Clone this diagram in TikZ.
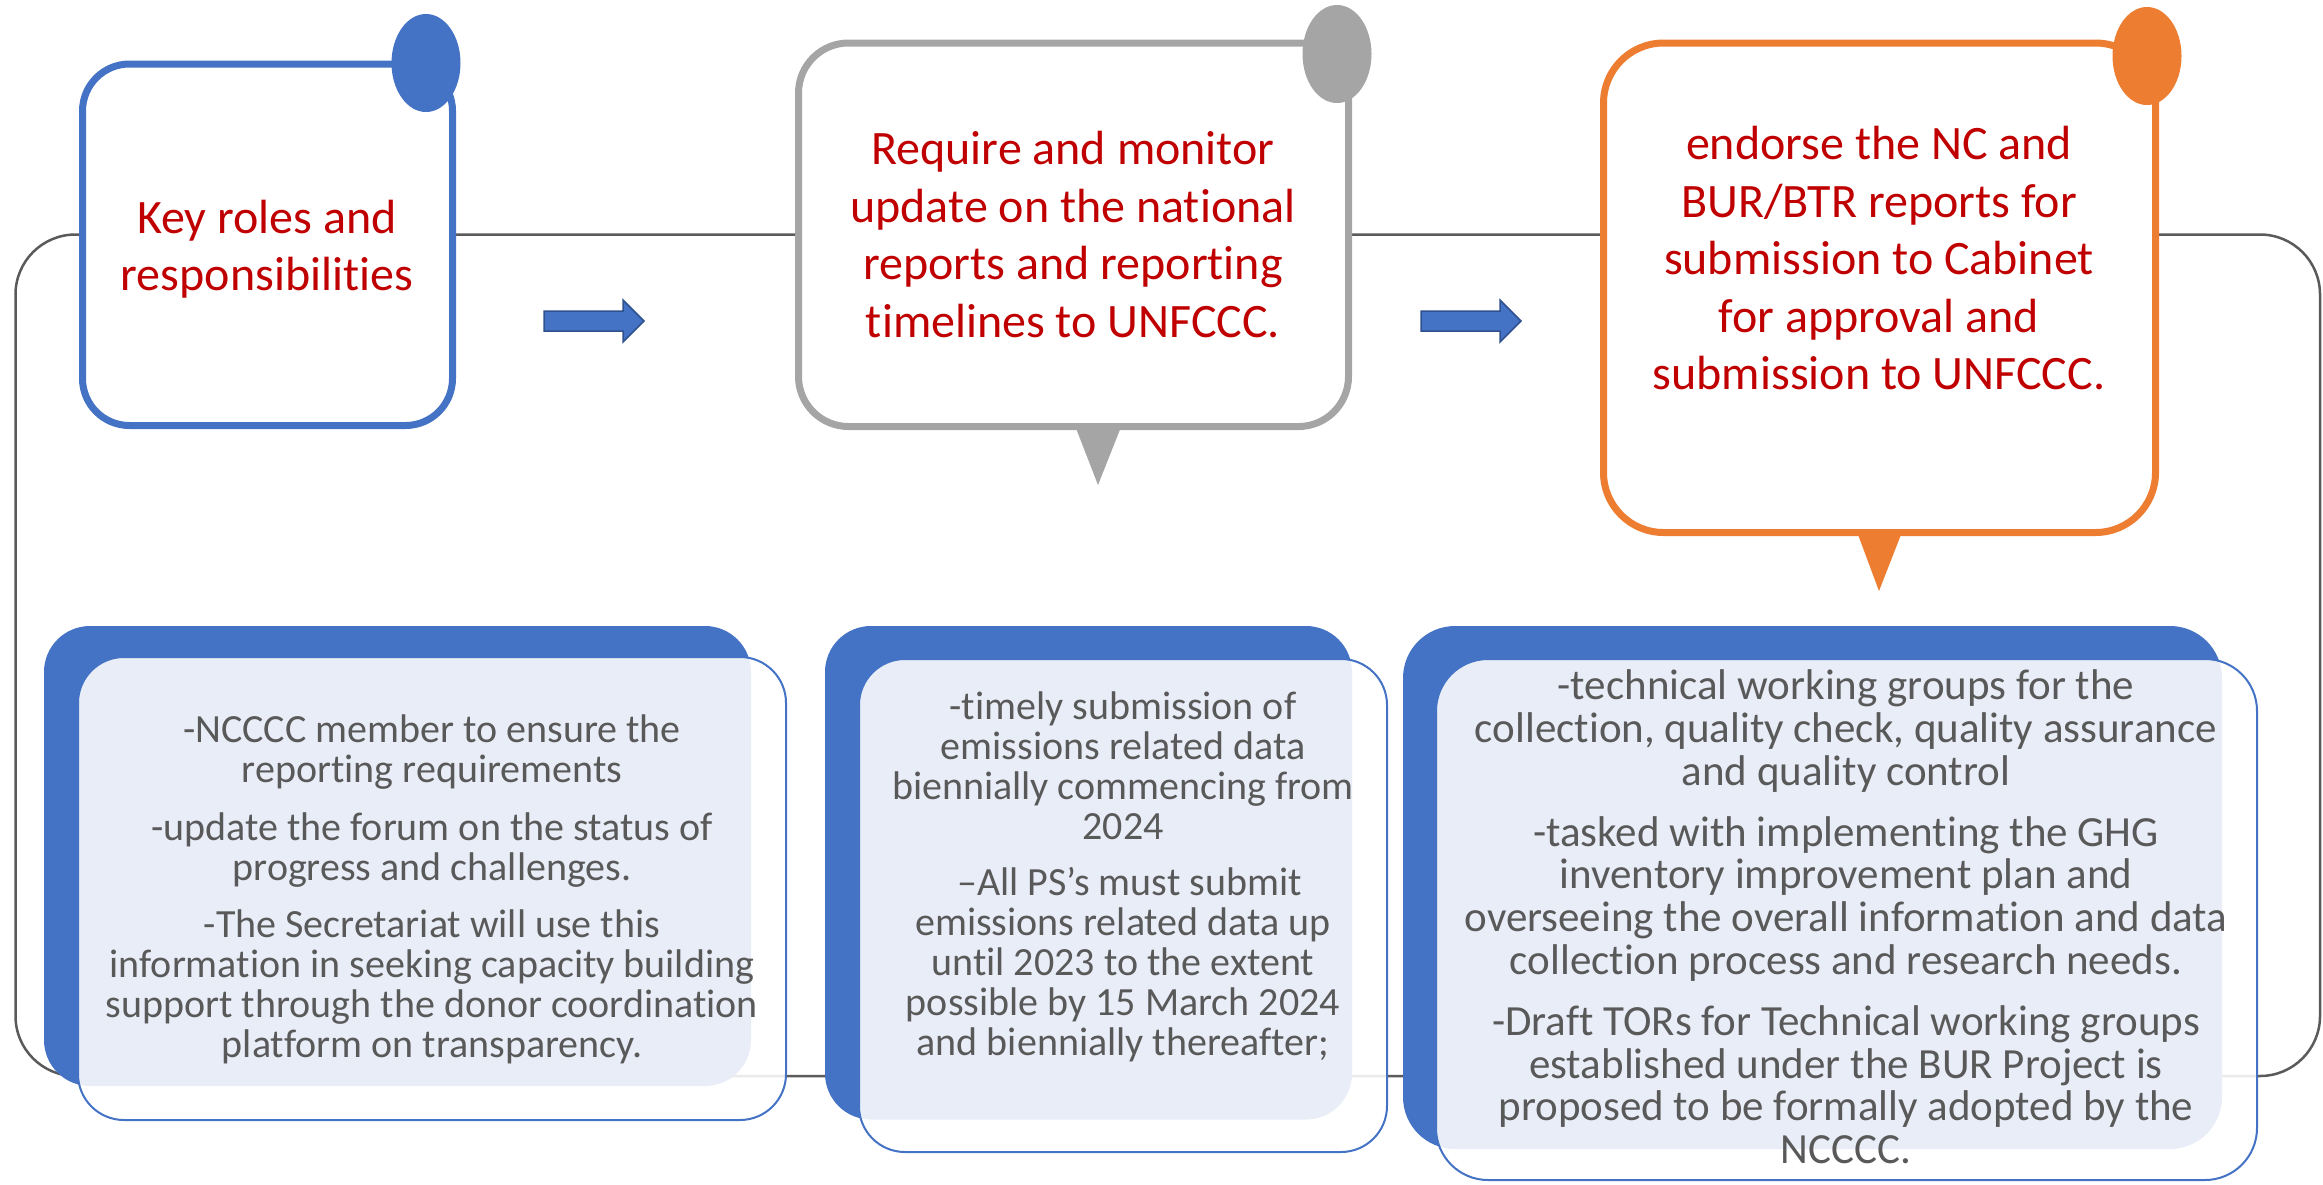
\documentclass[tikz,border=0pt]{standalone}
\usepackage{fontspec}
\setmainfont{Carlito}[Ligatures=NoCommon]

\definecolor{boxblue}{HTML}{4472C4}
\definecolor{boxgray}{HTML}{A5A5A5}
\definecolor{boxorange}{HTML}{ED7D31}
\definecolor{headred}{HTML}{C00000}
\definecolor{bodygray}{HTML}{595959}
\definecolor{arrowedge}{HTML}{2F528F}
\definecolor{loopgray}{HTML}{5A5A5A}

\tikzset{every picture/.style={line width=1.25pt}}
\tikzset{
  headbox/.style={line width=3.5pt, fill=white},
  headtext/.style={text=headred, align=center, inner sep=0pt, font=\fontsize{24pt}{28.75pt}\selectfont},
  backbox/.style={fill=boxblue},
  frontbox/.style={draw=boxblue, line width=1pt, fill=white, fill opacity=0.88},
  bodytext/.style={text=bodygray, align=center, inner sep=0pt},
  looppath/.style={draw=loopgray, line width=1.25pt},
  arrowbody/.style={fill=boxblue, draw=arrowedge, line width=0.75pt},
  pics/flowarrow/.style={code={
    \draw[arrowbody] (0,-10) -- (79,-10) -- (79,-21) -- (100,0) -- (79,21) -- (79,10) -- (0,10) -- cycle;
  }}
}

\begin{document}
\begin{tikzpicture}[x=0.5pt,y=0.5pt,yscale=-1,xscale=1]
    \useasboundingbox (0,0) rectangle (2323,1184);

    %Loop line behind everything
    \draw[looppath, rounded corners=30pt] (15.5,234.5) rectangle (2320,1076);

    %Shape: Rounded Rect (top left)
    \draw[headbox, draw=boxblue, rounded corners=23.5pt] (82.5,64) rectangle (452.5,425.5);
    %Shape: Circle
    \fill[boxblue] (426,63) ellipse [x radius=34.5, y radius=49];

    %Shape: Rounded Rect (top middle)
    \draw[headbox, draw=boxgray, rounded corners=25pt] (798.5,43) rectangle (1348.5,426.5);
    %Shape: Circle
    \fill[boxgray] (1337,54) ellipse [x radius=34.5, y radius=49];
    %Shape: Triangle
    \fill[boxgray] (1075.5,427) -- (1121,427) -- (1098,485) -- cycle;

    %Shape: Rounded Rect (top right)
    \draw[headbox, draw=boxorange, rounded corners=30pt] (1603.5,43) rectangle (2155.5,532.5);
    %Shape: Circle
    \fill[boxorange] (2147,56) ellipse [x radius=34.5, y radius=49];
    %Shape: Triangle
    \fill[boxorange] (1857,532) -- (1902,532) -- (1879,591) -- cycle;

    % Text Node
    \node[headtext] (roles) at (267,249) {Key roles and\\responsibilities};
    % Text Node
    \node[headtext] (monitor) at (1073,234.5) {Require and monitor\\update on the national\\reports and reporting\\timelines to UNFCCC.};
    % Text Node
    \node[headtext] (endorse) at (1879,258.5) {endorse the NC and\\BUR/BTR reports for\\submission to Cabinet\\for approval and\\submission to UNFCCC.};

    %Block Arrows
    \pic at (544,321) {flowarrow};
    \pic at (1421,321) {flowarrow};

    %Shape: Rounded Rect (bottom left)
    \fill[backbox, rounded corners=23pt] (44,626) rectangle (751,1086);
    \draw[frontbox, rounded corners=23pt] (78,657) rectangle (786,1120);
    %Shape: Rounded Rect (bottom middle)
    \fill[backbox, rounded corners=23pt] (825,626) rectangle (1352,1119.5);
    \draw[frontbox, rounded corners=23pt] (859,659) rectangle (1387,1152);
    %Shape: Rounded Rect (bottom right)
    \fill[backbox, rounded corners=26pt] (1403,626) rectangle (2222,1149);
    \draw[frontbox, rounded corners=26pt] (1436,659) rectangle (2257,1180);

    % Text Node
    \node[bodytext, font=\fontsize{20pt}{20pt}\selectfont] (members) at (432,889.5) {-NCCCC member to ensure the\\reporting requirements\\[8.75pt]-update the forum on the status of\\progress and challenges.\\[8.75pt]-The Secretariat will use this\\information in seeking capacity building\\support through the donor coordination\\platform on transparency.};
    % Text Node
    \node[bodytext, font=\fontsize{20pt}{20pt}\selectfont] (timely) at (1123,877) {-timely submission of\\emissions related data\\biennially commencing from\\2024\\[8pt]\,\,–All PS’s must submit\\emissions related data up\\until 2023 to the extent\\possible by 15 March 2024\\and biennially thereafter;};
    % Text Node
    \node[bodytext, font=\fontsize{21.5pt}{21.4pt}\selectfont] (groups) at (1846,917) {-technical working groups for the\\collection, quality check, quality assurance\\and quality control\\[9pt]-tasked with implementing the GHG\\inventory improvement plan and\\overseeing the overall information and data\\collection process and research needs.\\[9pt]-Draft TORs for Technical working groups\\established under the BUR Project is\\proposed to be formally adopted by the\\NCCCC.};

\end{tikzpicture}
\end{document}
